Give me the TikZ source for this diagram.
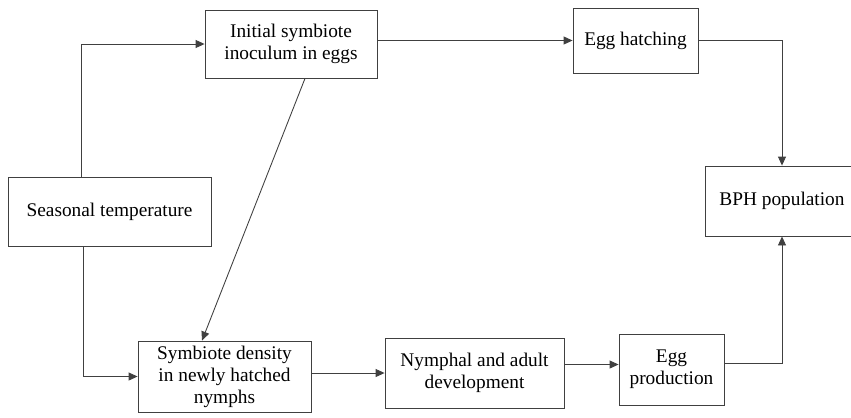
\documentclass[tikz,border=0pt]{standalone}
\usepackage{fontspec}
\setmainfont{Liberation Serif}
\usetikzlibrary{arrows.meta}

\begin{document}
\begin{tikzpicture}[x=0.02cm,y=-0.02cm]
    \tikzstyle{every node}+=[inner sep=0pt]
    \tikzstyle{box}=[draw=black!75, line width=0.5pt, rectangle, align=center,
        font=\fontsize{11}{12.5}\selectfont]
    \tikzstyle{arr}=[draw=black!75, line width=0.5pt,
        -{Triangle[length=1.8mm,width=1.6mm]}]
    \useasboundingbox (0,0) rectangle (851,417);
    % boxes
    \node [box, minimum width=4.06cm, minimum height=1.38cm] (temp) at (109.5,211.5) {Seasonal temperature};
    \node [box, minimum width=3.44cm, minimum height=1.36cm] (inoc) at (291,44) {Initial symbiote\\inoculum in eggs};
    \node [box, minimum width=2.5cm, minimum height=1.3cm] (hatch) at (635.5,40.5) {Egg hatching};
    \node [box, minimum width=3.08cm, minimum height=1.4cm] (bph) at (782,201) {BPH population};
    \node [box, minimum width=3.46cm, minimum height=1.42cm] (dens) at (224.5,376.5) {Symbiote density\\in newly hatched\\nymphs};
    \node [box, minimum width=3.58cm, minimum height=1.4cm] (dev) at (474.5,373) {Nymphal and adult\\development};
    \node [box, minimum width=2.1cm, minimum height=1.42cm] (prod) at (671.5,369.5) {Egg\\production};
    % connectors
    \draw [arr] ([xshift=-0.57cm]temp.north) |- (inoc.west);
    \draw [arr] ([xshift=-0.53cm]temp.south) |- (dens.west);
    \draw [arr] ([xshift=0.28cm]inoc.south) -- ([xshift=-0.45cm]dens.north);
    \draw [arr] (inoc.east |- hatch.west) -- (hatch.west);
    \draw [arr] (hatch.east) -| (bph.north);
    \draw [arr] (dens.east |- dev.west) -- (dev.west);
    \draw [arr] ([yshift=0.1cm]prod.west -| dev.east) -- ([yshift=0.1cm]prod.west);
    \draw [arr] ([yshift=0.12cm]prod.east) -| (bph.south);
\end{tikzpicture}
\end{document}
